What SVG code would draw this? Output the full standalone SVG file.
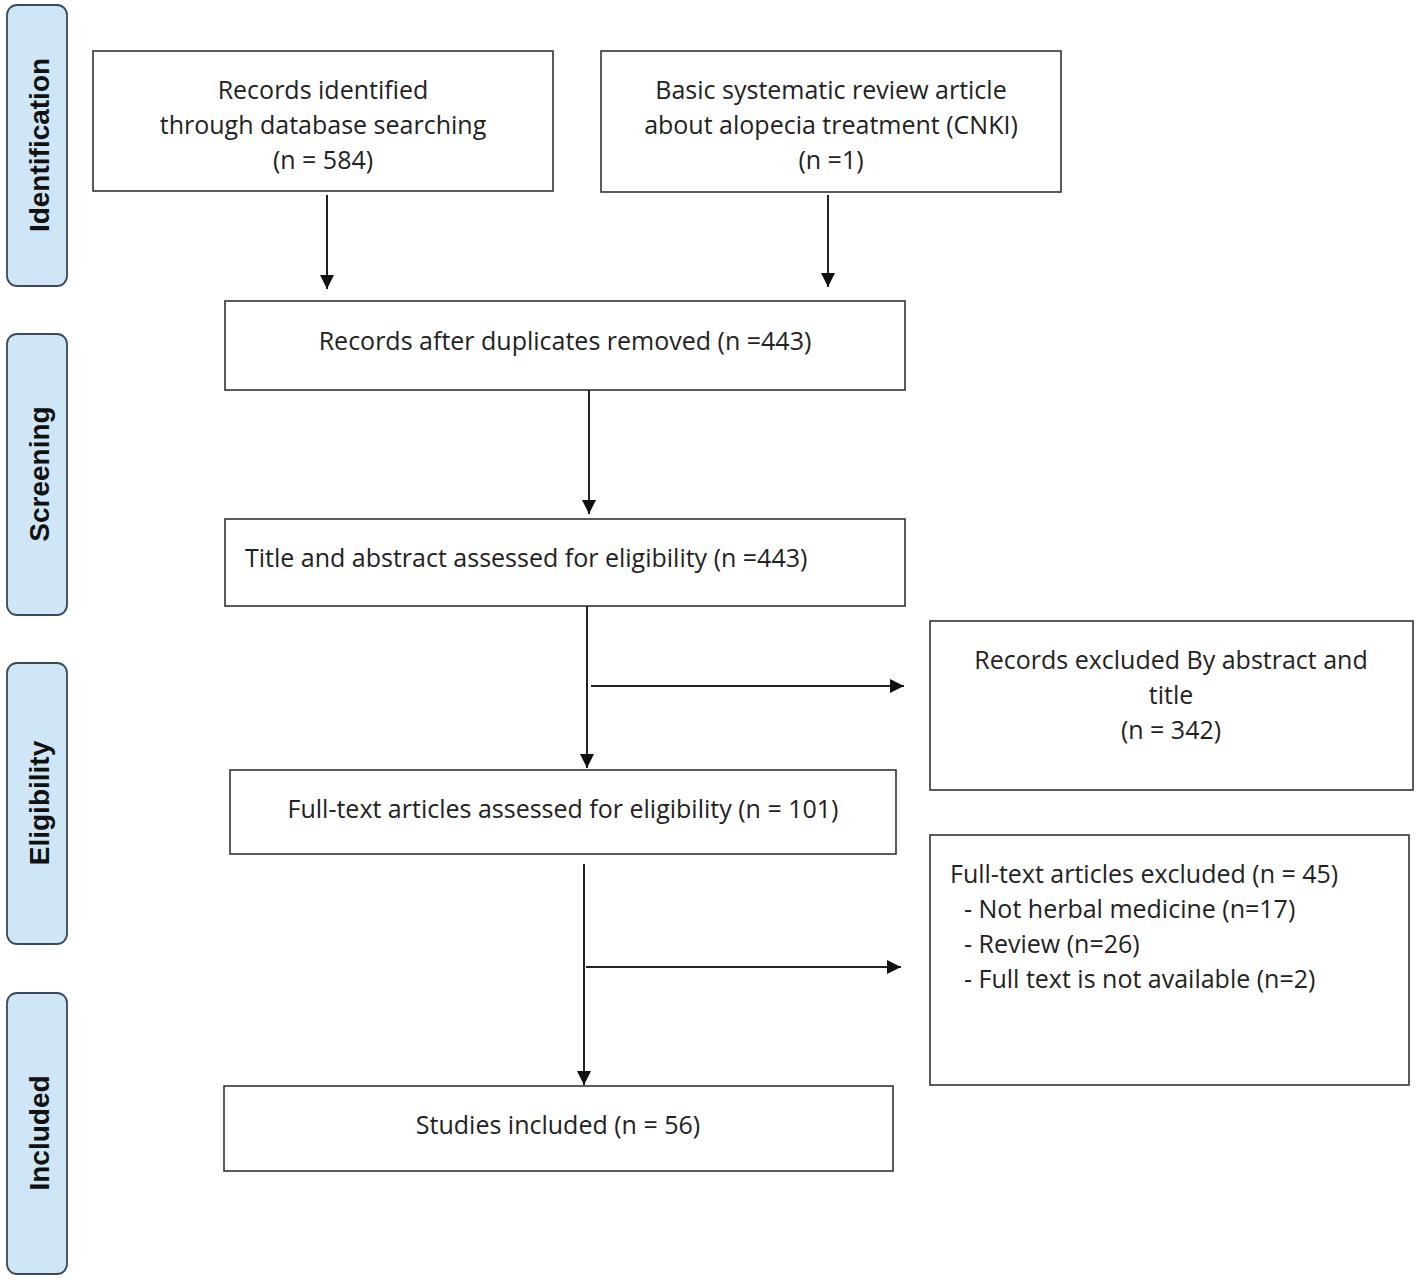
<svg xmlns="http://www.w3.org/2000/svg" width="1418" height="1280" viewBox="0 0 1418 1280">
<style>
.box{fill:#fff;stroke:#333;stroke-width:1.6}
.side{fill:#cfe6f7;stroke:#3a4a5a;stroke-width:1.8}
.t{font-family:"Open Sans","Liberation Sans",sans-serif;font-size:25px;fill:#222}
.c{text-anchor:middle}
.s{font-family:"Liberation Sans",Arial,sans-serif;font-size:28px;font-weight:bold;fill:#111;text-anchor:middle}
.ln{stroke:#222;stroke-width:2;fill:none}
</style>
<defs>
<marker id="ah" viewBox="0 0 10 10" refX="10" refY="5" markerWidth="15" markerHeight="14" markerUnits="userSpaceOnUse" orient="auto">
<path d="M0,0 L10,5 L0,10 z" fill="#111"/>
</marker>
</defs>
<rect width="1418" height="1280" fill="#fff"/>
<g id="phase-identification"><rect class="side" x="7" y="5" width="60" height="281" rx="10"/><text class="s" transform="translate(49,145) rotate(-90)">Identification</text></g>
<g id="phase-screening"><rect class="side" x="7" y="334" width="60" height="281" rx="10"/><text class="s" transform="translate(49,474) rotate(-90)">Screening</text></g>
<g id="phase-eligibility"><rect class="side" x="7" y="663" width="60" height="281" rx="10"/><text class="s" transform="translate(49,803) rotate(-90)">Eligibility</text></g>
<g id="phase-included"><rect class="side" x="7" y="993" width="60" height="281" rx="10"/><text class="s" transform="translate(49,1133) rotate(-90)">Included</text></g>

<g id="n1"><rect class="box" x="93" y="51" width="460" height="140"/>
<text class="t c" x="323" y="99">Records identified</text>
<text class="t c" x="323" y="134">through database searching</text>
<text class="t c" x="323" y="169">(n = 584)</text></g>
<g id="n2"><rect class="box" x="601" y="51" width="460" height="141"/>
<text class="t c" x="831" y="99">Basic systematic review article</text>
<text class="t c" x="831" y="134">about alopecia treatment (CNKI)</text>
<text class="t c" x="831" y="169">(n =1)</text></g>
<g id="n3"><rect class="box" x="225" y="301" width="680" height="89"/>
<text class="t c" x="565" y="350">Records after duplicates removed (n =443)</text></g>
<g id="n4"><rect class="box" x="225" y="519" width="680" height="87"/>
<text class="t" x="245" y="567">Title and abstract assessed for eligibility (n =443)</text></g>
<g id="n5"><rect class="box" x="930" y="621" width="483" height="169"/>
<text class="t c" x="1171" y="669">Records excluded By abstract and</text>
<text class="t c" x="1171" y="704">title</text>
<text class="t c" x="1171" y="739">(n = 342)</text></g>
<g id="n6"><rect class="box" x="230" y="770" width="666" height="84"/>
<text class="t c" x="563" y="818">Full-text articles assessed for eligibility (n = 101)</text></g>
<g id="n7"><rect class="box" x="930" y="835" width="479" height="250"/>
<text class="t" x="950" y="883">Full-text articles excluded (n = 45)</text>
<text class="t" x="964" y="918">- Not herbal medicine (n=17)</text>
<text class="t" x="964" y="953">- Review (n=26)</text>
<text class="t" x="964" y="988">- Full text is not available (n=2)</text></g>
<g id="n8"><rect class="box" x="224" y="1086" width="669" height="85"/>
<text class="t c" x="558" y="1134">Studies included (n = 56)</text></g>

<g id="connectors">
<line class="ln" x1="327" y1="195" x2="327" y2="289" marker-end="url(#ah)"/>
<line class="ln" x1="828" y1="195" x2="828" y2="287" marker-end="url(#ah)"/>
<line class="ln" x1="589" y1="390" x2="589" y2="514" marker-end="url(#ah)"/>
<line class="ln" x1="587" y1="606" x2="587" y2="768" marker-end="url(#ah)"/>
<line class="ln" x1="591" y1="686" x2="904" y2="686" marker-end="url(#ah)"/>
<line class="ln" x1="584" y1="864" x2="584" y2="1085" marker-end="url(#ah)"/>
<line class="ln" x1="586" y1="967" x2="901" y2="967" marker-end="url(#ah)"/>
</g>
</svg>
